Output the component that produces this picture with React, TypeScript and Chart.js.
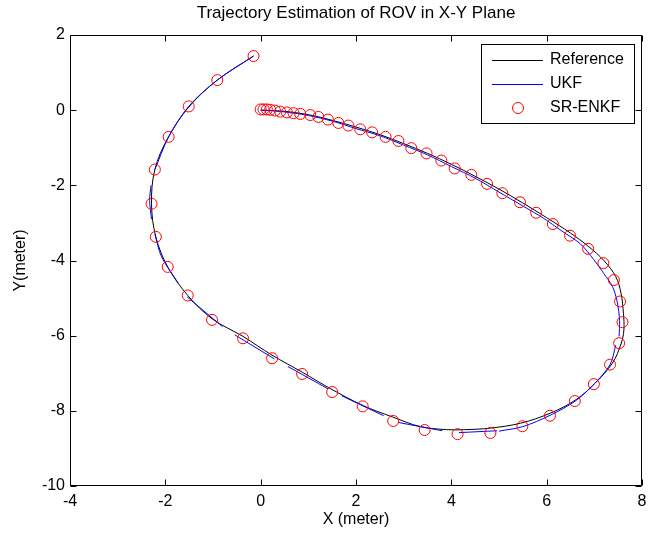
import React, { useEffect, useRef } from "react";
import { Chart, registerables } from "chart.js";

Chart.register(...registerables);

const titleText = "Trajectory Estimation of ROV in X-Y Plane";
const xLabel = "X (meter)";
const yLabel = "Y(meter)";
const legendLabels = ["Reference", "UKF", "SR-ENKF"];
const xTicks = [-4, -2, 0, 2, 4, 6, 8];
const yTicks = [-10, -8, -6, -4, -2, 0, 2];

// Reference trajectory (black)
const refX = [0, 0.5, 1.0, 1.5, 2.0, 2.5, 3.0, 3.5, 4.0, 4.5, 5.0, 5.5, 6.0, 6.5, 6.88, 7.2, 7.45, 7.56, 7.61, 7.62, 7.56, 7.38, 7.02, 6.62, 6.08, 5.45, 4.82, 4.3, 3.9, 3.35, 2.78, 2.15, 1.45, 0.87, 0.24, -0.37, -1.02, -1.53, -1.95, -2.2, -2.29, -2.22, -1.95, -1.51, -0.91, -0.15];
const refY = [0, -0.03, -0.12, -0.27, -0.45, -0.65, -0.89, -1.15, -1.44, -1.76, -2.1, -2.47, -2.86, -3.27, -3.63, -4.0, -4.43, -4.87, -5.4, -5.85, -6.22, -6.73, -7.26, -7.7, -8.06, -8.33, -8.46, -8.5, -8.5, -8.42, -8.17, -7.86, -7.4, -6.97, -6.52, -6.02, -5.55, -4.93, -4.17, -3.37, -2.49, -1.58, -0.75, 0.08, 0.8, 1.44];

// UKF estimate (blue), null = break in the line
const ukfX = [0, 0.3, 0.7, 1.0, 1.5, 2.0, 2.5, 3.0, 3.5, 4.0, 4.5, 5.0, 5.5, 5.94, 6.3, 6.71, 6.99, 7.2, 7.38, 7.48, 7.53, 7.52, null,
  7.45, 7.33, 7.0, 6.6, 6.07, 5.5, 5.0, null,
  4.96, 4.16, null,
  3.81, 2.89, null,
  2.58, 1.7, null,
  1.42, 0.57, null,
  0.29, -0.54, null,
  -0.8, -1.54, null,
  -1.73, -2.08, -2.22, null,
  -2.29, -2.33, -2.3, null,
  -2.22, -1.93, -1.51, -0.91, -0.15];
const ukfY = [0, -0.02, -0.08, -0.14, -0.29, -0.49, -0.68, -0.93, -1.19, -1.5, -1.81, -2.18, -2.55, -2.88, -3.2, -3.56, -3.98, -4.35, -4.69, -5.1, -5.6, -6.02, null,
  -6.25, -6.77, -7.28, -7.74, -8.12, -8.42, -8.54, null,
  -8.53, -8.58, null,
  -8.53, -8.31, null,
  -8.13, -7.6, null,
  -7.42, -6.82, null,
  -6.62, -5.98, null,
  -5.76, -4.97, null,
  -4.6, -3.9, -3.3, null,
  -2.9, -2.4, -2.0, null,
  -1.58, -0.71, 0.1, 0.8, 1.44];

// SR-ENKF estimate (red circles)
const enkfX = [0.0, 0.06, 0.13, 0.2, 0.3, 0.41, 0.55, 0.69, 0.83, 1.04, 1.21, 1.41, 1.63, 1.84, 2.09, 2.34, 2.62, 2.89, 3.16, 3.48, 3.79, 4.07, 4.42, 4.75, 5.07, 5.44, 5.78, 6.13, 6.49, 6.87, 7.19, 7.41, 7.54, 7.59, 7.52, 7.33, 6.99, 6.59, 6.07, 5.49, 4.82, 4.13, 3.44, 2.78, 2.14, 1.5, 0.87, 0.24, -0.37, -1.02, -1.53, -1.95, -2.2, -2.29, -2.22, -1.93, -1.51, -0.91, -0.15];
const enkfY = [0.02, 0.02, 0.02, 0.01, -0.01, -0.04, -0.06, -0.08, -0.1, -0.13, -0.18, -0.25, -0.34, -0.41, -0.51, -0.59, -0.71, -0.82, -1.01, -1.15, -1.34, -1.55, -1.72, -1.96, -2.21, -2.45, -2.73, -3.03, -3.34, -3.69, -4.07, -4.52, -5.09, -5.64, -6.2, -6.77, -7.29, -7.74, -8.13, -8.41, -8.59, -8.62, -8.51, -8.27, -7.88, -7.5, -7.02, -6.6, -6.07, -5.58, -4.93, -4.17, -3.37, -2.49, -1.58, -0.71, 0.1, 0.8, 1.44];

const FONT = "'Liberation Sans', Arial, Helvetica, sans-serif";

const decorPlugin = {
  id: "decor",
  afterDraw(chart: any) {
    const { ctx, chartArea: a, scales } = chart;
    const xs = scales.x;
    const ys = scales.y;
    ctx.save();
    ctx.strokeStyle = "#000";
    ctx.lineWidth = 1;
    const L = Math.round(a.left) + 0.5;
    const R = Math.round(a.right) - 0.5;
    const T = Math.round(a.top) + 0.5;
    const B = Math.round(a.bottom) - 0.5;
    ctx.beginPath();
    ctx.rect(L, T, R - L, B - T);
    ctx.stroke();
    const tl = 6;
    ctx.beginPath();
    xTicks.forEach((v) => {
      const px = Math.round(xs.getPixelForValue(v)) + 0.5;
      ctx.moveTo(px, B);
      ctx.lineTo(px, B - tl);
      ctx.moveTo(px, T);
      ctx.lineTo(px, T + tl);
    });
    yTicks.forEach((v) => {
      const py = Math.round(ys.getPixelForValue(v)) + 0.5;
      ctx.moveTo(L, py);
      ctx.lineTo(L + tl, py);
      ctx.moveTo(R, py);
      ctx.lineTo(R - tl, py);
    });
    ctx.stroke();

    // title
    ctx.fillStyle = "#000";
    ctx.font = `17px ${FONT}`;
    ctx.textAlign = "center";
    ctx.textBaseline = "middle";
    const cx = (a.left + a.right) / 2;
    ctx.fillText(titleText, cx, 13);
    ctx.font = `16px ${FONT}`;
    // x label
    ctx.fillText(xLabel, cx, 520);
    // y label
    ctx.save();
    ctx.translate(21, (a.top + a.bottom) / 2);
    ctx.rotate(-Math.PI / 2);
    ctx.fillText(yLabel, 0, 0);
    ctx.restore();

    // legend
    const bx = 481.5, by = 44.5, bw = 153, bh = 79;
    ctx.fillStyle = "#fff";
    ctx.fillRect(bx, by, bw, bh);
    ctx.strokeStyle = "#000";
    ctx.strokeRect(bx, by, bw, bh);
    const rows = [60, 84, 108];
    ctx.lineWidth = 1;
    ctx.strokeStyle = "#000";
    ctx.beginPath();
    ctx.moveTo(492, rows[0] + 0.5);
    ctx.lineTo(543, rows[0] + 0.5);
    ctx.stroke();
    ctx.strokeStyle = "#0000ff";
    ctx.beginPath();
    ctx.moveTo(492, rows[1] + 0.5);
    ctx.lineTo(543, rows[1] + 0.5);
    ctx.stroke();
    ctx.strokeStyle = "#ff0000";
    ctx.beginPath();
    ctx.arc(518, rows[2], 5.5, 0, Math.PI * 2);
    ctx.stroke();
    ctx.fillStyle = "#000";
    ctx.textAlign = "left";
    legendLabels.forEach((t, i) => ctx.fillText(t, 550, rows[i]));
    ctx.restore();
  },
};

export default function App() {
  const ref = useRef<HTMLCanvasElement>(null);
  useEffect(() => {
    const refData = refX.map((x, i) => ({ x, y: refY[i] }));
    const ukfData = ukfX.map((x, i) => (x === null ? { x: 0, y: null } : { x, y: ukfY[i] }));
    const enkfData = enkfX.map((x, i) => ({ x, y: enkfY[i] }));
    const chart = new Chart(ref.current as HTMLCanvasElement, {
      type: "scatter",
      data: {
        datasets: [
          {
            label: legendLabels[2],
            data: enkfData,
            showLine: false,
            pointRadius: 5.5,
            pointStyle: "circle",
            pointBorderColor: "#ff0000",
            pointBackgroundColor: "rgba(0,0,0,0)",
            pointBorderWidth: 1,
          },
          {
            label: legendLabels[1],
            data: ukfData as any,
            showLine: true,
            spanGaps: false,
            borderColor: "#0000ff",
            borderWidth: 1,
            pointRadius: 0,
            tension: 0.3,
          },
          {
            label: legendLabels[0],
            data: refData,
            showLine: true,
            borderColor: "#000000",
            borderWidth: 1,
            pointRadius: 0,
            tension: 0.35,
          },
        ],
      },
      options: {
        responsive: false,
        animation: false,
        events: [],
        layout: { padding: { top: 35, right: 14, left: 0, bottom: 0 } },
        plugins: {
          legend: { display: false },
          title: { display: false },
          tooltip: { enabled: false },
        },
        scales: {
          x: {
            type: "linear",
            min: -4,
            max: 8,
            afterBuildTicks: (s: any) => {
              s.ticks = xTicks.map((v) => ({ value: v }));
            },
            grid: { display: false, drawTicks: false },
            border: { display: false },
            ticks: { color: "#000", font: { size: 16, family: FONT }, padding: 6, maxRotation: 0, autoSkip: false },
            afterFit: (s: any) => {
              s.height = 48;
            },
          },
          y: {
            type: "linear",
            min: -10,
            max: 2,
            afterBuildTicks: (s: any) => {
              s.ticks = yTicks.map((v) => ({ value: v }));
            },
            grid: { display: false, drawTicks: false },
            border: { display: false },
            ticks: { color: "#000", font: { size: 16, family: FONT }, padding: 5, autoSkip: false },
            afterFit: (s: any) => {
              s.width = 70;
            },
          },
        },
      },
      plugins: [decorPlugin],
    } as any);
    return () => chart.destroy();
  }, []);
  return (
    <div style={{ position: "absolute", left: 0, top: 0, width: 656, height: 534, background: "#fff" }}>
      <canvas ref={ref} width={656} height={534} style={{ display: "block", width: 656, height: 534 }} />
    </div>
  );
}
